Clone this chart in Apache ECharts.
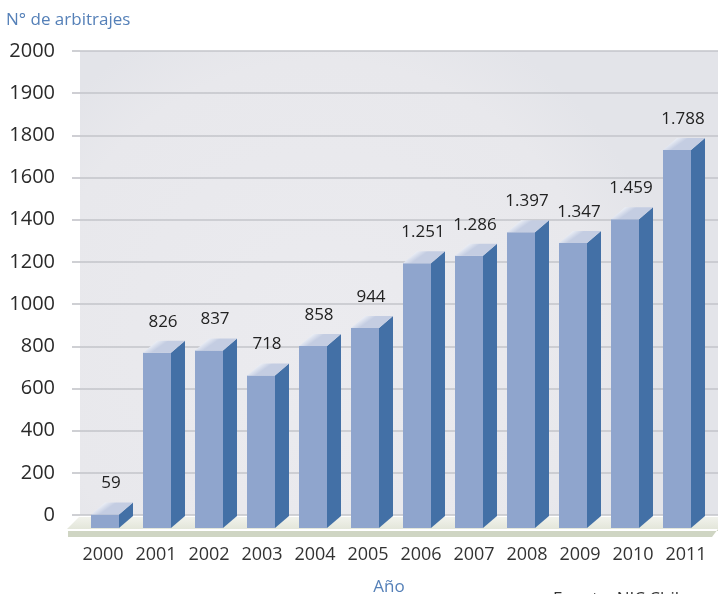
<!DOCTYPE html>
<html><head><meta charset="utf-8">
<script src="https://cdn.jsdelivr.net/npm/echarts@6/dist/echarts.min.js"></script>
<style>html,body{margin:0;padding:0;background:#fff}#c{width:718px;height:594px}</style>
</head><body><div id="c"></div><script>
const categories = ['2000','2001','2002','2003','2004','2005','2006','2007','2008','2009','2010','2011'];
const arbitrajes = [59, 826, 837, 718, 858, 944, 1251, 1286, 1397, 1347, 1459, 1788];
const yTickLabels = ['0','200','400','600','800','1000','1200','1400','1600','1800','1900','2000'];

const FONT = '"Open Sans", "Noto Sans", sans-serif';
const chart = echarts.init(document.getElementById('c'), null, {renderer: 'canvas'});
function fmt(v){ return String(v).replace(/\B(?=(\d{3})+(?!\d))/g, '.'); }

const gridLine = {color: '#c3c4ca', width: 1.6};

function renderItem(params, api){
  const i = api.value(0), v = api.value(1);
  const top = api.coord([i, v]);
  const zero = api.coord([i, 0]);
  const fw = 28, dx = 14, dy = 12;
  const x0 = top[0] - fw / 2;
  const yb = top[1];
  const yf = yb + dy;
  const floorY = zero[1] + 13;
  return {type: 'group', children: [
    {type: 'rect', shape: {x: x0, y: yf, width: fw, height: floorY - yf}, style: {fill: '#8fa5cd'}},
    {type: 'polygon', shape: {points: [[x0 + fw, yf], [x0 + fw + dx, yb], [x0 + fw + dx, floorY - dy], [x0 + fw, floorY]]}, style: {fill: '#4370a6'}},
    {type: 'polygon', shape: {points: [[x0, yf], [x0 + dx, yb], [x0 + fw + dx, yb], [x0 + fw, yf]]},
      style: {fill: new echarts.graphic.LinearGradient(0, 0, 0.2, 1, [{offset: 0, color: '#ffffff'}, {offset: 0.45, color: '#f3f5f9'}, {offset: 1, color: '#c4cde2'}])}},
    {type: 'text', style: {text: fmt(v), x: top[0] + 6, y: yb - 19, align: 'center', verticalAlign: 'middle',
      fontSize: 17, fontFamily: FONT, fill: '#222'}}
  ]};
}

const option = {
  animation: false,
  backgroundColor: '#ffffff',
  grid: [
    {left: 80, right: 0, top: 51, bottom: 79, show: true, borderWidth: 0,
      backgroundColor: new echarts.graphic.RadialGradient(0.38, 0.62, 0.75, [
        {offset: 0, color: '#ebebef'}, {offset: 0.8, color: '#e8e8ec'}, {offset: 1, color: '#e3e4e9'}])},
    {left: 79, right: 15, top: 51, bottom: 79},
    {left: 76.5, right: 5.5, top: 51, bottom: 79}
  ],
  xAxis: [
    {gridIndex: 0, type: 'category', data: categories, show: false},
    {gridIndex: 1, type: 'category', data: categories, show: false},
    {gridIndex: 2, type: 'category', data: categories, axisLine: {show: false}, axisTick: {show: false},
      axisLabel: {margin: 31, fontSize: 18, color: '#333', fontFamily: FONT, interval: 0}}
  ],
  yAxis: [
    {gridIndex: 0, type: 'value', min: 0, max: 2200, interval: 200,
      axisLine: {show: false},
      axisTick: {show: true, length: 8, lineStyle: gridLine},
      splitLine: {show: true, lineStyle: gridLine},
      axisLabel: {formatter: v => yTickLabels[Math.round(v / 200)], fontSize: 20, color: '#2a2a2a', fontFamily: FONT, margin: 25}},
    {gridIndex: 1, type: 'value', min: 0, max: 2200, interval: 200, show: false},
    {gridIndex: 2, type: 'value', min: 0, max: 2200, interval: 200, show: false}
  ],
  graphic: [
    {type: 'polygon', z: 5, shape: {points: [[79, 517], [718, 517], [718, 529], [67, 529]]},
      style: {fill: new echarts.graphic.LinearGradient(0, 0, 0, 1, [{offset: 0, color: '#f1f2ec'}, {offset: 1, color: '#e3e6da'}])}},
    {type: 'polygon', z: 5, shape: {points: [[68, 531], [718, 531], [718, 529], [712, 537], [68, 537]]},
      style: {fill: '#cfd5c3'}},
    {type: 'text', z: 5, style: {text: 'N° de arbitrajes', x: 6, y: 20, verticalAlign: 'middle', fontSize: 17, fontFamily: FONT, fill: '#5580b8'}},
    {type: 'text', z: 5, style: {text: 'Año', x: 389, y: 587, align: 'center', verticalAlign: 'middle', fontSize: 17, fontFamily: FONT, fill: '#5580b8'}},
    {type: 'text', z: 5, style: {text: 'Fuente: NIC Chile', x: 553, y: 599, verticalAlign: 'middle', fontSize: 17, fontFamily: FONT, fill: '#333'}}
  ],
  series: [{type: 'custom', xAxisIndex: 1, yAxisIndex: 1, z: 10, clip: false,
    data: arbitrajes.map((v, i) => [i, v]), renderItem: renderItem}]
};
chart.setOption(option);
</script></body></html>
